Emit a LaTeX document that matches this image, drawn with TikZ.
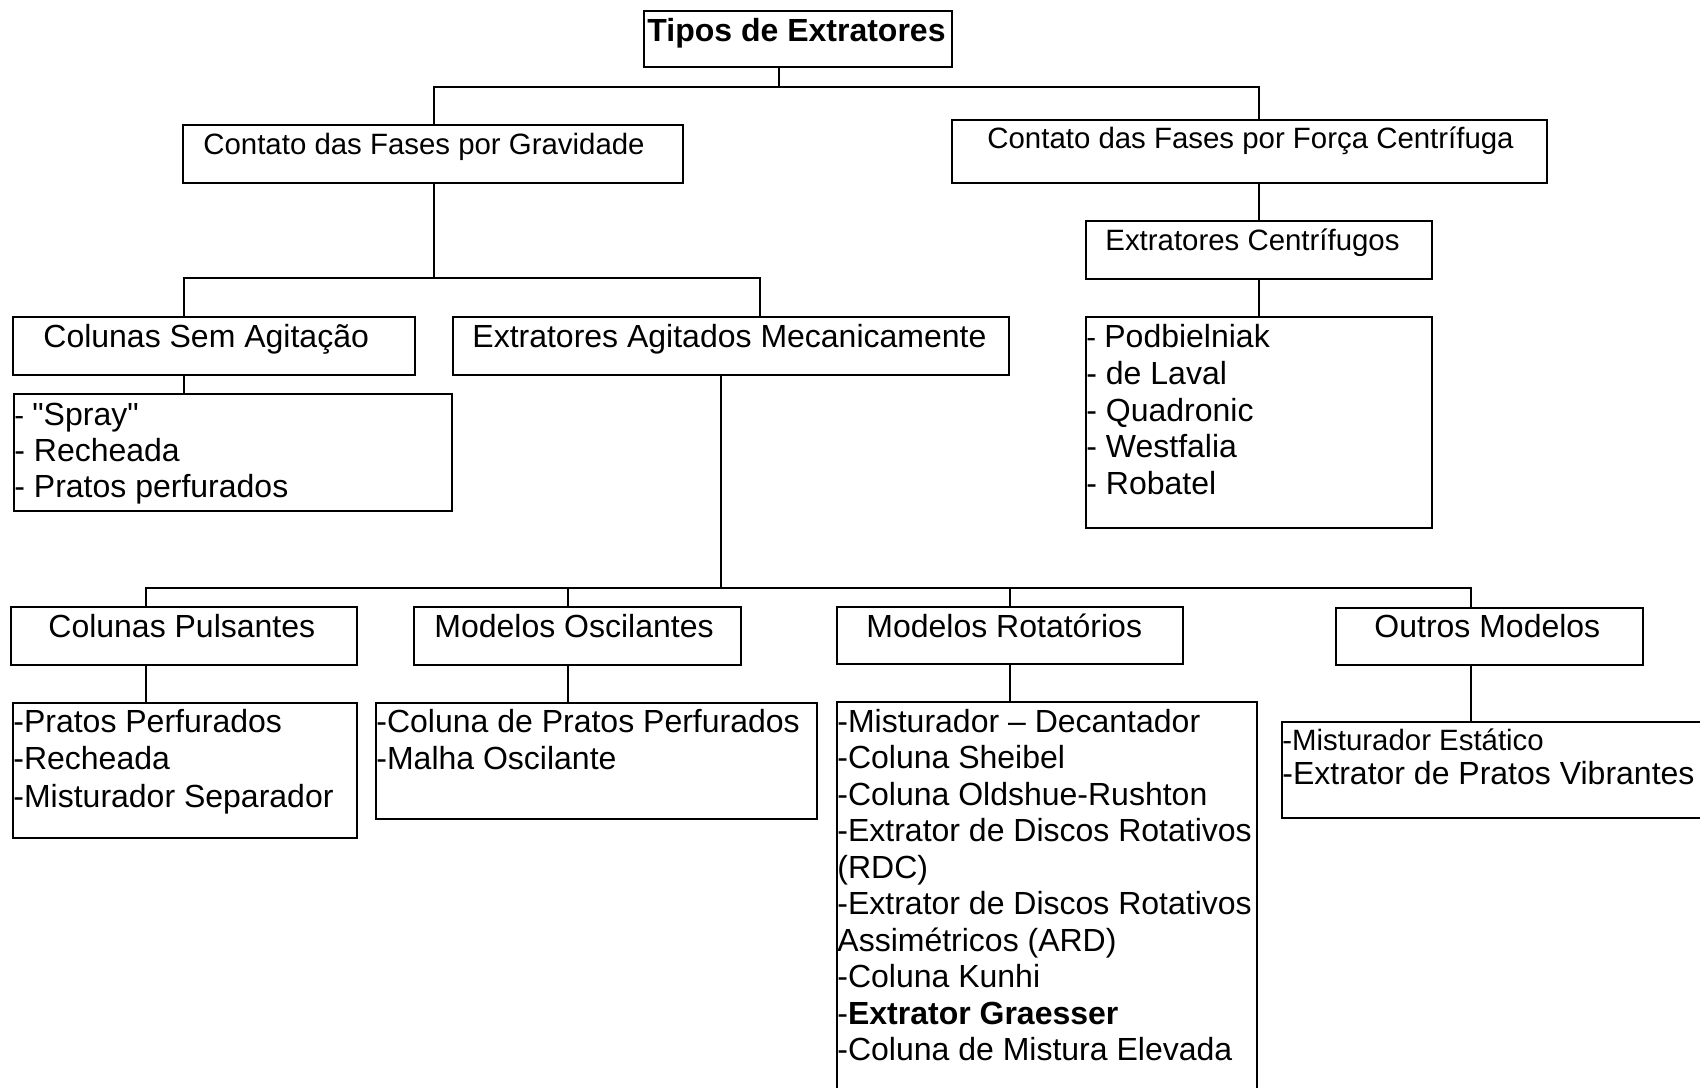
\documentclass[tikz,border=0pt]{standalone}
\usepackage{fontspec}
\setmainfont{Liberation Sans}[Ligatures=TeXOff]
\tikzset{
  bx/.style={draw, line width=1pt, inner sep=0pt, outer sep=0pt, anchor=north west},
  lnk/.style={line width=1pt},
  big/.style={font=\fontsize{16}{18}\selectfont, inner sep=0pt, anchor=base west},
  sml/.style={font=\fontsize{14.7}{17}\selectfont, inner sep=0pt, anchor=base west},
}
\newcommand\mkbox[5]{\node[bx, minimum width={(#4-#2)*0.5pt}, minimum height={(#5-#3)*0.5pt}] (#1) at (#2,#3) {};}
\newcommand\smh{{\fontsize{14.7}{17}\selectfont- }}
\begin{document}
\begin{tikzpicture}[x=0.5pt, y=-0.5pt]
\useasboundingbox (0,0) rectangle (1700,1087);
\fill[white] (0,0) rectangle (1700,1087);
% boxes
\mkbox{tipos}{644}{11}{952}{67}
\mkbox{grav}{183}{125}{683}{183}
\mkbox{cent}{952}{120}{1547}{183}
\mkbox{ec}{1086}{221}{1432}{279}
\mkbox{pod}{1086}{317}{1432}{528}
\mkbox{csa}{13}{317}{415}{375}
\mkbox{eam}{453}{317}{1009}{375}
\mkbox{spr}{14}{394}{452}{511}
\mkbox{cpul}{11}{607}{357}{665}
\mkbox{mosc}{414}{607}{741}{665}
\mkbox{mrot}{837}{607}{1183}{664}
\mkbox{outm}{1336}{608}{1643}{665}
\mkbox{lpul}{13}{703}{357}{838}
\mkbox{losc}{376}{703}{817}{819}
\mkbox{lrot}{837}{702}{1257}{1110}
\mkbox{lout}{1282}{722}{1720}{818}
% titles
\node[big, font=\fontsize{16}{18}\selectfont\bfseries] (ttipos) at (647,41) {Tipos de Extratores};
\node[sml] (tgrav) at (203,154) {Contato das Fases por Gravidade};
\node[sml] (tcent) at (987,148) {Contato das Fases por Força Centrífuga};
\node[sml] (tec) at (1105,250) {Extratores Centrífugos};
\node[big] (tcsa) at (43,347) {Colunas Sem Agitação};
\node[big] (team) at (472,347) {Extratores Agitados Mecanicamente};
\node[big] (tcpul) at (48,637) {Colunas Pulsantes};
\node[big] (tmosc) at (434,637) {Modelos Oscilantes};
\node[big] (tmrot) at (866,637) {Modelos Rotatórios};
\node[big] (toutm) at (1374,637) {Outros Modelos};
% lists
\node[big] (p1) at (1086,347) {\smh Podbielniak};
\node[big] (p2) at (1086,384) {- de Laval};
\node[big] (p3) at (1086,421) {- Quadronic};
\node[big] (p4) at (1086,457.5) {- Westfalia};
\node[big] (p5) at (1086,494.5) {- Robatel};
\node[big] (s1) at (14,425) {\smh "Spray"};
\node[big] (s2) at (14,461) {- Recheada};
\node[big] (s3) at (14,497) {- Pratos perfurados};
\node[big] (u1) at (13,732) {-Pratos Perfurados};
\node[big] (u2) at (13,769.5) {-Recheada};
\node[big] (u3) at (13,807) {-Misturador Separador};
\node[big] (o1) at (376,732) {-Coluna de Pratos Perfurados};
\node[big] (o2) at (376,769.5) {-Malha Oscilante};
\node[big] (r1) at (837,732) {-Misturador – Decantador};
\node[big] (r2) at (837,768.5) {-Coluna Sheibel};
\node[big] (r3) at (837,805) {-Coluna Oldshue-Rushton};
\node[big] (r4) at (837,841.5) {-Extrator de Discos Rotativos};
\node[big] (r5) at (837,878) {(RDC)};
\node[big] (r6) at (837,914.5) {-Extrator de Discos Rotativos};
\node[big] (r7) at (837,951) {Assimétricos (ARD)};
\node[big] (r8) at (837,987.5) {-Coluna Kunhi};
\node[big] (r9) at (837,1024) {-\textbf{Extrator Graesser}};
\node[big] (r10) at (837,1060.5) {-Coluna de Mistura Elevada};
\node[sml] (x1) at (1282,750) {-Misturador Estático};
\node[big] (x2) at (1282,784) {-Extrator de Pratos Vibrantes};
% connectors
\coordinate (t0) at (779,87);
\coordinate (tL) at (434,87);
\coordinate (tR) at (1259,87);
\draw[lnk] (tipos.south -| t0) -- (t0);
\draw[lnk] (grav.north -| tL) -- (tL) -- (tR) -- (cent.north -| tR);
\draw[lnk] (cent.south -| tR) -- (ec.north -| tR);
\draw[lnk] (ec.south -| tR) -- (pod.north -| tR);
\coordinate (g0) at (434,278);
\coordinate (gL) at (184,278);
\coordinate (gR) at (760,278);
\draw[lnk] (grav.south -| g0) -- (g0);
\draw[lnk] (csa.north -| gL) -- (gL) -- (gR) -- (eam.north -| gR);
\draw[lnk] (csa.south -| gL) -- (spr.north -| gL);
\coordinate (e0) at (721,588);
\coordinate (eL) at (146,588);
\coordinate (eA) at (567.5,588);
\coordinate (eB) at (1010,588);
\coordinate (eR) at (1471,588);
\draw[lnk] (eam.south -| e0) -- (e0);
\draw[lnk] (cpul.north -| eL) -- (eL) -- (eR) -- (outm.north -| eR);
\draw[lnk] (eA) -- (mosc.north -| eA);
\draw[lnk] (eB) -- (mrot.north -| eB);
\draw[lnk] (cpul.south -| eL) -- (lpul.north -| eL);
\draw[lnk] (mosc.south -| eA) -- (losc.north -| eA);
\draw[lnk] (mrot.south -| eB) -- (lrot.north -| eB);
\draw[lnk] (outm.south -| eR) -- (lout.north -| eR);
\end{tikzpicture}
\end{document}
